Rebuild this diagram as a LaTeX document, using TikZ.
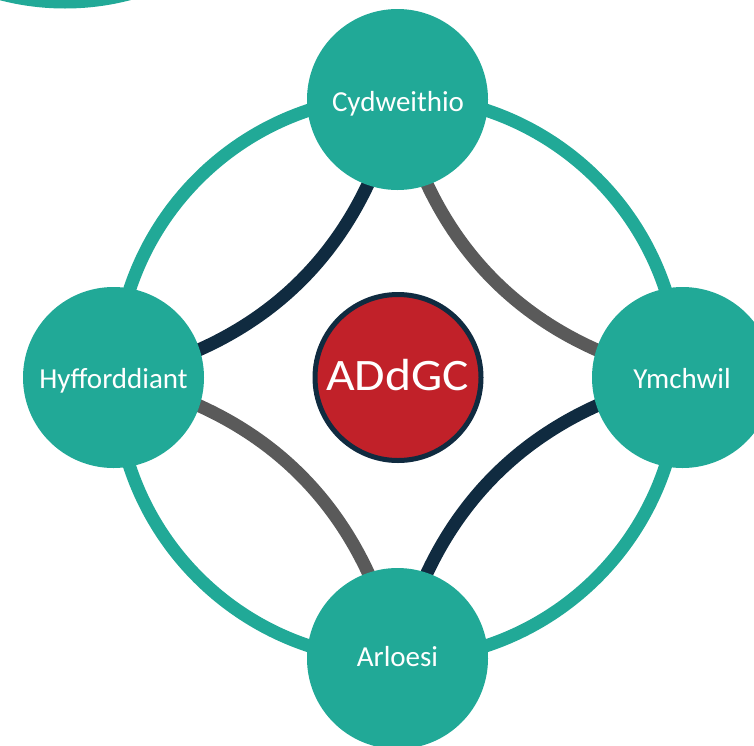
\documentclass[tikz,border=0pt]{standalone}
\usepackage{fontspec}
\setmainfont{Carlito}
\newfontfamily\centerfont[FakeStretch=1.1]{Carlito}
\usetikzlibrary{backgrounds}
\definecolor{myteal}{RGB}{33,169,151}
\definecolor{mynavy}{RGB}{16,43,64}
\definecolor{mygray}{RGB}{90,90,90}
\definecolor{myred}{RGB}{193,33,41}
\begin{document}
\begin{tikzpicture}[x=1pt,y=-1pt,
  hub/.style={circle, fill=myteal, minimum size=181pt, inner sep=0pt},
  lbl/.style={text=white, font=\fontsize{29}{35}\selectfont, anchor=base, inner sep=0pt},
  navylink/.style={draw=mynavy, line width=13pt},
  graylink/.style={draw=mygray, line width=13pt},
  ring/.style={draw=myteal, line width=13pt},
  core/.style={circle, fill=myred, draw=mynavy, line width=5pt, minimum size=166pt, inner sep=0pt},
  corelbl/.style={text=white, font=\centerfont\fontsize{45}{54}\selectfont, anchor=base, inner sep=0pt}
]
\useasboundingbox (0,0) rectangle (754,745);
\node[hub] (T) at (397.5,99.5) {};
\node[hub] (L) at (113.5,377.5) {};
\node[hub] (R) at (682.5,377.5) {};
\node[hub] (B) at (397.5,658.5) {};
\node[lbl] (Tt) at (398,111.7) {Cydweithio};
\node[lbl] (Lt) at (113.5,388.3) {Hyfforddiant};
\node[lbl] (Rt) at (682,388.3) {Ymchwil};
\node[lbl] (Bt) at (397.5,666) {Arloesi};
\node[core] (C) at (398,377.5) {};
\node[corelbl] (Ct) at (397.5,390) {ADdGC};
\begin{scope}[on background layer]
  \fill[myteal] (65,-250) circle (258.5pt);
  \coordinate (O) at (397.5,378);
  \draw[ring] (O) circle (282pt);
  \draw[navylink] (T.center) to[bend left=32] (L.center);
  \draw[graylink] (T.center) to[bend right=32] (R.center);
  \draw[graylink] (L.center) to[bend left=32] (B.center);
  \draw[navylink] (R.center) to[bend right=32] (B.center);
\end{scope}
\end{tikzpicture}
\end{document}
